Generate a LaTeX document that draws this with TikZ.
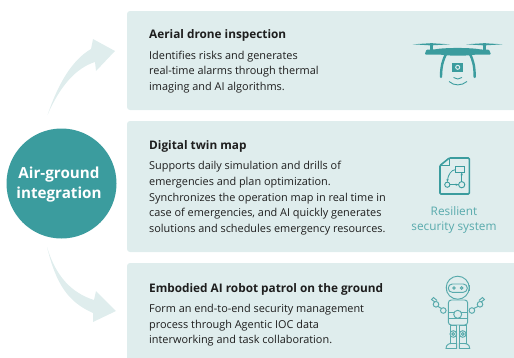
\documentclass[tikz,border=0pt]{standalone}
\usepackage{fontspec}
\setmainfont{Open Sans}
\definecolor{panelbg}{RGB}{223, 237, 237}
\definecolor{tealmain}{RGB}{59, 156, 158}
\definecolor{teallight}{RGB}{88, 170, 172}
\definecolor{bodytext}{RGB}{30, 30, 30}
\usetikzlibrary{
    arrows.meta,
    positioning,
    calc
}
\tikzstyle{panel} = [
    fill=panelbg,
    rounded corners=3pt
]
\tikzstyle{heading} = [
    anchor=base west,
    inner sep=0pt,
    text=bodytext,
    font=\fontsize{11.8}{14}\selectfont\bfseries
]
\tikzstyle{bodycopy} = [
    anchor=north west,
    inner sep=0pt,
    align=left,
    text=bodytext,
    font=\fontsize{10.9}{15.7}\selectfont
]
\tikzstyle{iconline} = [
    draw=tealmain,
    line width=0.9pt
]
\tikzstyle{robotline} = [
    draw=teallight,
    line width=0.95pt
]

\begin{document}
\begin{tikzpicture}[x=1pt, y=-1pt]
    \useasboundingbox (0,0) rectangle (514,357);

    % Panels
    \fill[panel] (127,11) rectangle (520,110);
    \fill[panel] (127,121) rectangle (520,252);
    \fill[panel] (127,263) rectangle (520,370);

    % Hub circle
    \node[circle, fill=tealmain, minimum size=110pt, inner sep=0pt] (hub) at (61.5,183.5) {};
    \node[inner sep=0pt, align=center, text=white, font=\fontsize{15.2}{19.5}\selectfont\bfseries]
        (hublabel) at (59,184.5) {Air-ground\\integration};

    % Upper arrow
    \coordinate (tailup) at (47.5,115);
    \coordinate (tipup) at (115,51);
    \fill[panelbg] (tailup) .. controls (58,84) and (72,60) .. (91,49)
        -- (93,39) -- (tipup) -- (96,71) -- (95,62)
        .. controls (76,68) and (60,86) .. (tailup) -- cycle;

    % Lower arrow
    \coordinate (taildown) at (47,247);
    \coordinate (tipdown) at (116,311);
    \fill[panelbg] (taildown) .. controls (56,277) and (72,293) .. (94,300)
        -- (96,291) -- (tipdown) -- (93,322) -- (93,313)
        .. controls (68,302) and (56,284) .. (taildown) -- cycle;

    % Aerial drone panel
    \node[heading] (titleair) at (149,38.5) {Aerial drone inspection};
    \node[bodycopy] (textair) at (149,50.7) {Identifies risks and generates\\real-time alarms through thermal\\imaging and AI algorithms.};

    % Digital twin panel
    \node[heading] (titletwin) at (149,149.5) {Digital twin map};
    \node[bodycopy] (texttwin) at (149,161.3) {Supports daily simulation and drills of\\emergencies and plan optimization.\\Synchronizes the operation map in real time in\\case of emergencies, and AI quickly generates\\solutions and schedules emergency resources.};

    % Robot panel
    \node[heading] (titlerobot) at (149,292.5) {Embodied AI robot patrol on the ground};
    \node[bodycopy] (textrobot) at (149,304) {Form an end-to-end security management\\process through Agentic IOC data\\interworking and task collaboration.};

    % Drone icon
    \fill[tealmain] (412.7,44.3) -- (431,43.2) -- (450,44.3) -- (431,45.4) -- cycle;
    \fill[tealmain] (466,44.3) -- (484.3,43.2) -- (502.7,44.3) -- (484.3,45.4) -- cycle;
    \fill[tealmain] (429.5,42.5) rectangle (432.5,50);
    \fill[tealmain] (482.8,42.5) rectangle (485.8,50);
    \fill[tealmain, rounded corners=1pt] (424.7,54.5) -- (426.5,49.5) -- (434,49.5)
        .. controls (445,47.5) and (470,47.5) .. (481,49.5) -- (489,49.5) -- (491,54.5)
        -- (476,54.5) .. controls (468,56) and (448,56) .. (440,54.5) -- cycle;
    \draw[tealmain, line width=2.4pt, line cap=round] (446,54) .. controls (443,60) and (441,66) .. (441,77);
    \draw[tealmain, line width=2.4pt, line cap=round] (470,54) .. controls (473,60) and (474.7,66) .. (474.7,77);
    \fill[tealmain] (452,62.7) rectangle (463,71.7);
    \draw[panelbg, line width=1pt] (457.7,67.3) circle (2);
    \draw[tealmain, line width=0.9pt] (453.5,77.5) .. controls (456,79.5) and (459.5,79.5) .. (462,77.5);
    \draw[tealmain, line width=0.9pt] (449,81.5) .. controls (454,86) and (461.5,86) .. (467,81.5);

    % Document icon
    \draw[iconline, line width=1.6pt, rounded corners=1pt] (440,165.5) -- (449.3,158) -- (469.3,158)
        -- (469.3,194) -- (440,194) -- cycle;
    \draw[iconline] (449.3,158) -- (449.3,165.5) -- (440,165.5);
    \draw[iconline] (455.7,166.7) rectangle (464,172.3);
    \draw[iconline] (447.3,184.7) circle (2.6);
    \draw[iconline] (461.7,184.7) circle (3.1);
    \draw[iconline, line width=0.8pt, -{Stealth[length=3pt]}] (449.9,184.7) -- (458.6,184.7);
    \draw[iconline, line width=0.8pt, -{Stealth[length=3pt]}] (461.7,181.6) -- (461.7,172.3);
    \draw[iconline, line width=0.8pt, -{Stealth[length=3pt]}] (455.7,169.5) .. controls (451,170) and (448,175) .. (447.3,182.1);

    % Icon caption
    \node[inner sep=0pt, align=center, text=teallight, font=\fontsize{11.8}{15}\selectfont] (caption)
        at (454,219.5) {Resilient\\security system};

    % Robot icon
    \draw[robotline] (457.7,287.7) circle (11.5);
    \draw[robotline, rounded corners=4pt] (448.3,284) rectangle (467.3,292.3);
    \draw[robotline] (454,288) circle (1.3);
    \draw[robotline] (461.7,288) circle (1.3);
    \draw[robotline] (446,285) -- (446,291);
    \draw[robotline] (469.5,285) -- (469.5,291);
    \draw[robotline, rounded corners=3pt] (448.3,300) rectangle (467.7,325);
    \draw[robotline] (448.3,312.3) -- (467.7,312.3);
    \draw[robotline] (448.3,318.3) -- (467.7,318.3);
    \draw[robotline, fill=panelbg] (457.7,314.3) circle (4);
    % arms
    \draw[robotline, fill=panelbg] (443.3,310.5) circle (2.8);
    \draw[robotline, fill=panelbg] (471.9,310.5) circle (2.8);
    \draw[robotline] (441.5,308.5) -- (438,306.5);
    \draw[robotline] (473.7,308.5) -- (478,306.5);
    \draw[robotline, fill=panelbg] (436,304.3) circle (2.8);
    \draw[robotline, fill=panelbg] (480,304.3) circle (2.8);
    \draw[robotline] (435,302) -- (431.5,299.5) -- (433.5,297.5) -- (437,300.5);
    \draw[robotline] (481,302) -- (484.5,299.5) -- (482.5,297.5) -- (479,300.5);
    % legs
    \draw[robotline] (450,325) rectangle (456.7,347);
    \draw[robotline] (459.3,325) rectangle (466,347);
    \draw[robotline, fill=panelbg] (453.3,334) circle (3.3);
    \draw[robotline, fill=panelbg] (462.7,334) circle (3.3);
    \draw[robotline] (453.3,334) circle (1.4);
    \draw[robotline] (462.7,334) circle (1.4);
    \draw[robotline, fill=panelbg] (446,348.5) .. controls (446,344) and (450,343.5) .. (451,343.5)
        -- (456.7,343.5) -- (456.7,348.5) -- cycle;
    \draw[robotline, fill=panelbg] (469.7,348.5) .. controls (469.7,344) and (465.5,343.5) .. (464.5,343.5)
        -- (459.3,343.5) -- (459.3,348.5) -- cycle;
\end{tikzpicture}
\end{document}
